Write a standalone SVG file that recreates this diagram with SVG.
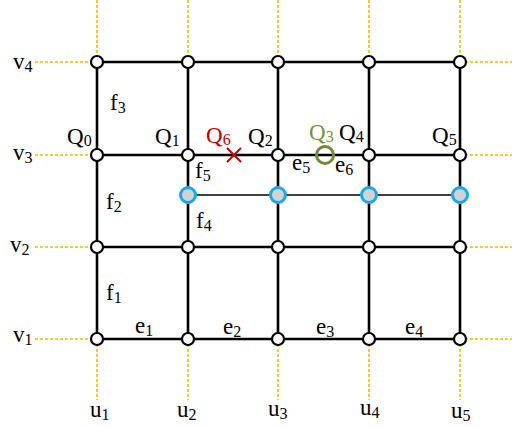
<svg xmlns="http://www.w3.org/2000/svg" width="512" height="427" viewBox="0 0 512 427" font-family="'Liberation Serif', 'Times New Roman', serif" font-size="24">
<style>
.dash{stroke:#f5b800;stroke-width:1.6;stroke-dasharray:3,2;fill:none}
.edge{stroke:#000;stroke-width:2.6;fill:none}
.thin{stroke:#000;stroke-width:1.6;fill:none}
.node{fill:#fff;stroke:#000;stroke-width:2.2}
.blue{fill:#d3d3d3;stroke:#19a8ea;stroke-width:3}
.lbl{font-family:'Liberation Serif','Times New Roman',serif;font-size:23px;fill:#000}
.s{font-size:16px}
.red{fill:#c00000}
.grn{fill:#77933c}
</style>
<rect width="512" height="427" fill="#fff"/>
<g id="guides">
<path class="dash" d="M97 0V62M188 0V62M278 0V62M369 0V62M460 0V62"/>
<path class="dash" d="M97 339V400M188 339V400M278 339V400M369 339V400M460 339V400"/>
<path class="dash" d="M35 62H97M35 155H97M35 247H97M35 339H97"/>
<path class="dash" d="M460 62H512M460 155H512M460 247H512M460 339H512"/>
</g>
<g id="connectors">
<path class="edge" d="M97 62H460M97 155H460M97 247H460M97 339H460"/>
<path class="edge" d="M97 62V339M188 62V339M278 62V339M369 62V339M460 62V339"/>
<path class="thin" d="M188 195H460"/>
</g>
<g id="nodes">
<circle class="node" cx="97" cy="62" r="6"/><circle class="node" cx="188" cy="62" r="6"/><circle class="node" cx="278" cy="62" r="6"/><circle class="node" cx="369" cy="62" r="6"/><circle class="node" cx="460" cy="62" r="6"/>
<circle class="node" cx="97" cy="155" r="6"/><circle class="node" cx="188" cy="155" r="6"/><circle class="node" cx="278" cy="155" r="6"/><circle class="node" cx="369" cy="155" r="6"/><circle class="node" cx="460" cy="155" r="6"/>
<circle class="node" cx="97" cy="247" r="6"/><circle class="node" cx="188" cy="247" r="6"/><circle class="node" cx="278" cy="247" r="6"/><circle class="node" cx="369" cy="247" r="6"/><circle class="node" cx="460" cy="247" r="6"/>
<circle class="node" cx="97" cy="339" r="6"/><circle class="node" cx="188" cy="339" r="6"/><circle class="node" cx="278" cy="339" r="6"/><circle class="node" cx="369" cy="339" r="6"/><circle class="node" cx="460" cy="339" r="6"/>
</g>
<g id="blue-nodes">
<circle class="blue" cx="188" cy="195" r="7.5"/><circle class="blue" cx="278" cy="195" r="7.5"/><circle class="blue" cx="369" cy="195" r="7.5"/><circle class="blue" cx="460" cy="195" r="7.5"/>
</g>
<g id="Q6">
<path d="M227 148L241 162M241 148L227 162" stroke="#c00000" stroke-width="2"/>
<text x="206" y="143" class="lbl red">Q<tspan class="s" dy="2">6</tspan></text>
</g>
<g id="Q3">
<circle cx="325" cy="155" r="8.5" fill="none" stroke="#6f8a3a" stroke-width="3"/>
<text x="309" y="140" class="lbl grn">Q<tspan class="s" dy="2">3</tspan></text>
</g>
<g id="labels" class="lbl">
<text x="13" y="69">v<tspan class="s" dy="3">4</tspan></text>
<text x="13" y="160">v<tspan class="s" dy="3">3</tspan></text>
<text x="10" y="252">v<tspan class="s" dy="3">2</tspan></text>
<text x="13" y="342">v<tspan class="s" dy="3">1</tspan></text>
<text x="90" y="417">u<tspan class="s" dy="3">1</tspan></text>
<text x="177" y="417">u<tspan class="s" dy="3">2</tspan></text>
<text x="268" y="416">u<tspan class="s" dy="3">3</tspan></text>
<text x="360" y="415">u<tspan class="s" dy="3">4</tspan></text>
<text x="451" y="418">u<tspan class="s" dy="3">5</tspan></text>
<text x="67" y="144">Q<tspan class="s" dy="2">0</tspan></text>
<text x="155" y="144">Q<tspan class="s" dy="2">1</tspan></text>
<text x="248" y="144">Q<tspan class="s" dy="2">2</tspan></text>
<text x="339" y="140">Q<tspan class="s" dy="2">4</tspan></text>
<text x="432" y="143">Q<tspan class="s" dy="2">5</tspan></text>
<text x="110" y="110">f<tspan class="s" dy="3">3</tspan></text>
<text x="195" y="178">f<tspan class="s" dy="3">5</tspan></text>
<text x="106" y="209">f<tspan class="s" dy="3">2</tspan></text>
<text x="196" y="228">f<tspan class="s" dy="3">4</tspan></text>
<text x="106" y="300">f<tspan class="s" dy="3">1</tspan></text>
<text x="292" y="170">e<tspan class="s" dy="3">5</tspan></text>
<text x="335" y="172">e<tspan class="s" dy="3">6</tspan></text>
<text x="135" y="333">e<tspan class="s" dy="3">1</tspan></text>
<text x="223" y="334">e<tspan class="s" dy="3">2</tspan></text>
<text x="316" y="334">e<tspan class="s" dy="3">3</tspan></text>
<text x="405" y="334">e<tspan class="s" dy="3">4</tspan></text>
</g>
</svg>
